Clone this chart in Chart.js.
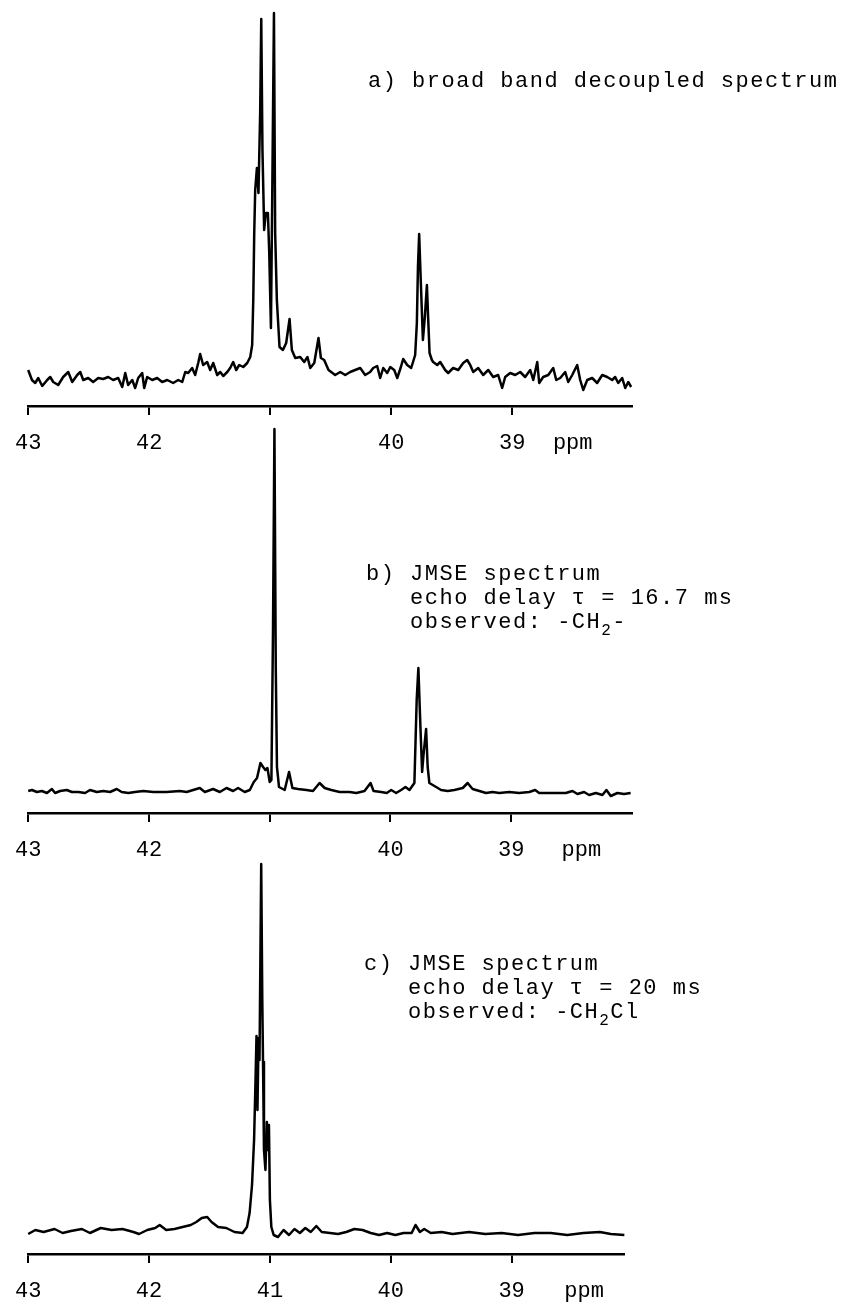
<!DOCTYPE html>
<html>
<head>
<meta charset="utf-8">
<title>JMSE spectra</title>
<script src="https://cdn.jsdelivr.net/npm/chart.js@4.4.1/dist/chart.umd.min.js"></script>
<style>
  html, body { margin: 0; padding: 0; background: #fff; overflow: hidden; }
  body { width: 861px; height: 1306px; position: relative; }
  canvas.panel { position: absolute; left: 0; }
  .note {
    position: absolute;
    font-family: "Liberation Mono", "Courier New", monospace;
    font-size: 22px;
    letter-spacing: 1.5px;
    line-height: 24px;
    color: #000;
    white-space: pre;
  }
  .note sub { font-size: 16px; vertical-align: -7px; line-height: 0; }
</style>
</head>
<body>
<canvas id="specA" class="panel" width="700" height="456" style="top:0px"></canvas>
<canvas id="specB" class="panel" width="700" height="443" style="top:420px"></canvas>
<canvas id="specC" class="panel" width="700" height="459" style="top:845px"></canvas>

<div class="note" style="left:368px; top:70px">a) broad band decoupled spectrum</div>
<div class="note" style="left:366px; top:563px">b) JMSE spectrum
   echo delay τ = 16.7 ms
   observed: -CH<sub>2</sub>-</div>
<div class="note" style="left:364px; top:953px">c) JMSE spectrum
   echo delay τ = 20 ms
   observed: -CH<sub>2</sub>Cl</div>

<script>
// ============= 13C spectra (three stacked panels) =============
// x = chemical shift in ppm (axis runs 43 -> 38), y = intensity in arbitrary units

const TICK_VALUES = [43, 42, 41, 40, 39];
const TICK_LABELS_A = ['43', '42', '', '40', '39'];
const TICK_LABELS_B = ['43', '42', '', '40', '39'];
const TICK_LABELS_C = ['43', '42', '41', '40', '39'];

// a) broad band decoupled
const PPM_A = [
  43.000, 42.969, 42.942, 42.917, 42.884, 42.843, 42.818, 42.793, 42.752, 42.711,
  42.669, 42.636, 42.595, 42.570, 42.545, 42.504, 42.463, 42.421, 42.380, 42.339,
  42.298, 42.256, 42.223, 42.198, 42.174, 42.140, 42.116, 42.091, 42.058, 42.041,
  42.017, 41.975, 41.934, 41.893, 41.851, 41.802, 41.760, 41.727, 41.702, 41.678,
  41.645, 41.620, 41.595, 41.579, 41.554, 41.521, 41.496, 41.471, 41.438, 41.413,
  41.388, 41.355, 41.331, 41.306, 41.281, 41.256, 41.223, 41.190, 41.165, 41.149,
  41.140, 41.132, 41.124, 41.110, 41.097, 41.083, 41.074, 41.064, 41.050, 41.036,
  41.019, 41.008, 40.994, 40.981, 40.969, 40.959, 40.945, 40.923, 40.895, 40.868,
  40.840, 40.821, 40.793, 40.752, 40.719, 40.692, 40.669, 40.636, 40.601, 40.581,
  40.554, 40.518, 40.463, 40.421, 40.380, 40.339, 40.298, 40.256, 40.215, 40.174,
  40.149, 40.116, 40.091, 40.066, 40.033, 40.008, 39.975, 39.950, 39.920, 39.901,
  39.868, 39.835, 39.802, 39.788, 39.779, 39.769, 39.755, 39.738, 39.722, 39.705,
  39.694, 39.683, 39.664, 39.653, 39.620, 39.595, 39.554, 39.529, 39.488, 39.446,
  39.405, 39.372, 39.347, 39.322, 39.281, 39.240, 39.198, 39.157, 39.116, 39.083,
  39.058, 39.017, 38.975, 38.934, 38.893, 38.851, 38.826, 38.793, 38.777, 38.744,
  38.702, 38.661, 38.636, 38.603, 38.562, 38.537, 38.504, 38.463, 38.438, 38.413,
  38.380, 38.339, 38.298, 38.256, 38.215, 38.174, 38.149, 38.124, 38.091, 38.066,
  38.041, 38.017
];
const INT_A = [
  8, -2, -5, 0, -8, -2, 1, -4, -7, 1,
  6, -4, 3, 6, -2, 0, -4, 0, -1, 1,
  -2, 0, -9, 5, -7, -2, -10, 0, 5, -10,
  1, -2, 0, -4, -2, -5, -2, -4, 6, 5,
  10, 3, 15, 24, 13, 16, 8, 15, 3, 6,
  2, 6, 10, 16, 8, 13, 11, 15, 21, 33,
  78, 145, 188, 210, 185, 265, 359, 228, 148, 165,
  165, 125, 50, 211, 365, 145, 78, 31, 28, 35,
  59, 28, 20, 21, 16, 21, 10, 15, 40, 20,
  18, 8, 3, 6, 3, 6, 8, 10, 3, 6,
  10, 12, 0, 10, 5, 11, 8, 0, 11, 19,
  13, 10, 23, 55, 111, 144, 95, 38, 61, 93,
  58, 25, 18, 16, 13, 16, 8, 5, 10, 8,
  15, 18, 13, 6, 10, 3, 8, 1, 3, -10,
  1, 5, 3, 6, 1, 8, -2, 16, -5, 1,
  3, 10, -2, 0, 6, -4, 3, 13, -2, -12,
  -2, 0, -5, 3, 1, -2, 1, -5, 0, -10,
  -4, -9
];

// b) JMSE, tau = 16.7 ms
const PPM_B = [
  43.000, 42.969, 42.928, 42.887, 42.845, 42.804, 42.777, 42.736, 42.680, 42.639,
  42.584, 42.529, 42.488, 42.432, 42.378, 42.322, 42.267, 42.226, 42.171, 42.116,
  42.047, 41.964, 41.854, 41.744, 41.688, 41.634, 41.579, 41.537, 41.469, 41.413,
  41.358, 41.303, 41.262, 41.207, 41.165, 41.132, 41.105, 41.077, 41.055, 41.036,
  41.019, 41.000, 40.986, 40.973, 40.961, 40.950, 40.940, 40.923, 40.876, 40.840,
  40.812, 40.766, 40.697, 40.642, 40.587, 40.545, 40.490, 40.421, 40.339, 40.283,
  40.215, 40.165, 40.140, 40.077, 40.031, 39.994, 39.953, 39.912, 39.876, 39.843,
  39.802, 39.783, 39.769, 39.752, 39.738, 39.725, 39.705, 39.692, 39.678, 39.622,
  39.581, 39.526, 39.471, 39.402, 39.361, 39.320, 39.264, 39.209, 39.155, 39.099,
  39.017, 38.934, 38.851, 38.802, 38.769, 38.686, 38.603, 38.548, 38.493, 38.452,
  38.397, 38.355, 38.300, 38.245, 38.212, 38.176, 38.121, 38.066, 38.011
];
const INT_B = [
  0, 1, -1, 0, -2, 2, -2, 0, 1, -1,
  -1, -2, 1, -1, 0, -1, 2, -1, -2, -1,
  0, -1, -1, 0, -1, 1, 3, -1, 2, -1,
  3, 0, 3, -1, 1, 9, 13, 28, 24, 21,
  23, 9, 11, 158, 362, 124, 24, 4, 1, 19,
  3, 2, 1, 0, 8, 3, 1, -1, -1, -2,
  0, 8, 0, -1, -2, 1, -2, 1, 4, 1,
  8, 91, 123, 64, 19, 38, 62, 24, 8, 4,
  1, 0, 1, 3, 8, 2, 0, -2, -1, -2,
  -1, -2, -1, 1, -2, -2, -2, -2, 0, -3,
  -1, -4, -2, -4, 1, -5, -2, -3, -2
];

// c) JMSE, tau = 20 ms
const PPM_C = [
  43.000, 42.941, 42.873, 42.782, 42.715, 42.647, 42.556, 42.489, 42.400, 42.310,
  42.220, 42.129, 42.083, 42.015, 41.949, 41.912, 41.858, 41.790, 41.722, 41.655,
  41.609, 41.564, 41.519, 41.483, 41.429, 41.361, 41.293, 41.226, 41.190, 41.168,
  41.148, 41.131, 41.119, 41.111, 41.103, 41.094, 41.086, 41.072, 41.063, 41.057,
  41.049, 41.037, 41.025, 41.016, 41.008, 41.000, 40.988, 40.969, 40.933, 40.887,
  40.842, 40.797, 40.752, 40.707, 40.662, 40.616, 40.571, 40.503, 40.436, 40.368,
  40.301, 40.233, 40.166, 40.097, 40.030, 39.962, 39.894, 39.827, 39.795, 39.759,
  39.723, 39.669, 39.578, 39.489, 39.353, 39.218, 39.082, 38.947, 38.811, 38.676,
  38.540, 38.405, 38.270, 38.179, 38.067
];
const INT_C = [
  -2, 2, 0, 3, -1, 1, 3, -1, 4, 2,
  3, 0, -2, 2, 4, 7, 2, 3, 5, 7,
  10, 14, 15, 10, 5, 4, 0, -1, 5, 19,
  47, 92, 152, 196, 122, 194, 172, 368, 232, 170,
  82, 62, 110, 82, 107, 32, 5, -3, -5, 2,
  -3, 3, -1, 4, 0, 6, 0, -1, -2, 0,
  3, 2, -1, -3, -1, -3, -1, -1, 7, 0,
  3, -1, 0, -2, 0, -2, -1, -3, -1, -1,
  -3, -1, 0, -2, -3
];

const FONT_FAMILY = '"Liberation Mono", "Courier New", monospace';
const INK = '#000';
const TICK_LEN = 9;
const TICK_PAD = 15;
const LABEL_SIZE = 22;

// draws the "ppm" unit next to the tick labels
const ppmUnitPlugin = {
    id: 'ppmUnit',
    afterDraw(chart, args, opts) {
        const x = chart.scales.x;
        const ctx = chart.ctx;
        ctx.save();
        ctx.font = LABEL_SIZE + 'px ' + FONT_FAMILY;
        ctx.fillStyle = INK;
        ctx.textAlign = 'center';
        ctx.textBaseline = 'middle';
        ctx.fillText('ppm', x.getPixelForValue(opts.at), x.top + TICK_LEN + TICK_PAD + LABEL_SIZE * 0.6);
        ctx.restore();
    }
};

function makeSpectrum(id, ppm, intensity, panel) {
    const ctx = document.getElementById(id);
    const points = ppm.map((p, i) => ({ x: p, y: intensity[i] }));

    return new Chart(ctx, {
        type: 'line',
        data: {
            datasets: [{
                data: points,
                borderColor: INK,
                borderWidth: 2.5,
                borderJoinStyle: 'round',
                pointRadius: 0,
                tension: 0,
                fill: false,
                clip: false
            }]
        },
        plugins: [ppmUnitPlugin],
        options: {
            responsive: false,
            animation: false,
            devicePixelRatio: 1,
            layout: { padding: { left: panel.padLeft, right: panel.padRight, top: 0, bottom: 0 } },
            plugins: {
                legend: { display: false },
                tooltip: { enabled: false },
                ppmUnit: { at: panel.unitAt }
            },
            scales: {
                x: {
                    type: 'linear',
                    reverse: true,
                    min: panel.xMin,
                    max: 43,
                    afterBuildTicks: (scale) => { scale.ticks = TICK_VALUES.map(v => ({ value: v })); },
                    afterFit: (scale) => { scale.height = 50; },
                    border: { display: true, width: 2.5, color: INK },
                    grid: { display: true, drawOnChartArea: false, drawTicks: true, tickLength: TICK_LEN, lineWidth: 2, color: INK },
                    ticks: {
                        autoSkip: false,
                        maxRotation: 0,
                        padding: TICK_PAD,
                        color: INK,
                        font: { family: FONT_FAMILY, size: LABEL_SIZE },
                        callback: (value, index) => panel.labels[index]
                    }
                },
                y: { display: false, min: panel.yMin, max: panel.yMax }
            }
        }
    });
}

makeSpectrum('specA', PPM_A, INT_A, { labels: TICK_LABELS_A, xMin: 38.01, yMin: -28, yMax: 378, padLeft: 28, padRight: 68, unitAt: 38.50 });
makeSpectrum('specB', PPM_B, INT_B, { labels: TICK_LABELS_B, xMin: 38.0, yMin: -22, yMax: 371, padLeft: 28, padRight: 68, unitAt: 38.42 });
makeSpectrum('specC', PPM_C, INT_C, { labels: TICK_LABELS_C, xMin: 38.07, yMin: -22, yMax: 387, padLeft: 23, padRight: 76, unitAt: 38.40 });
</script>
</body>
</html>
